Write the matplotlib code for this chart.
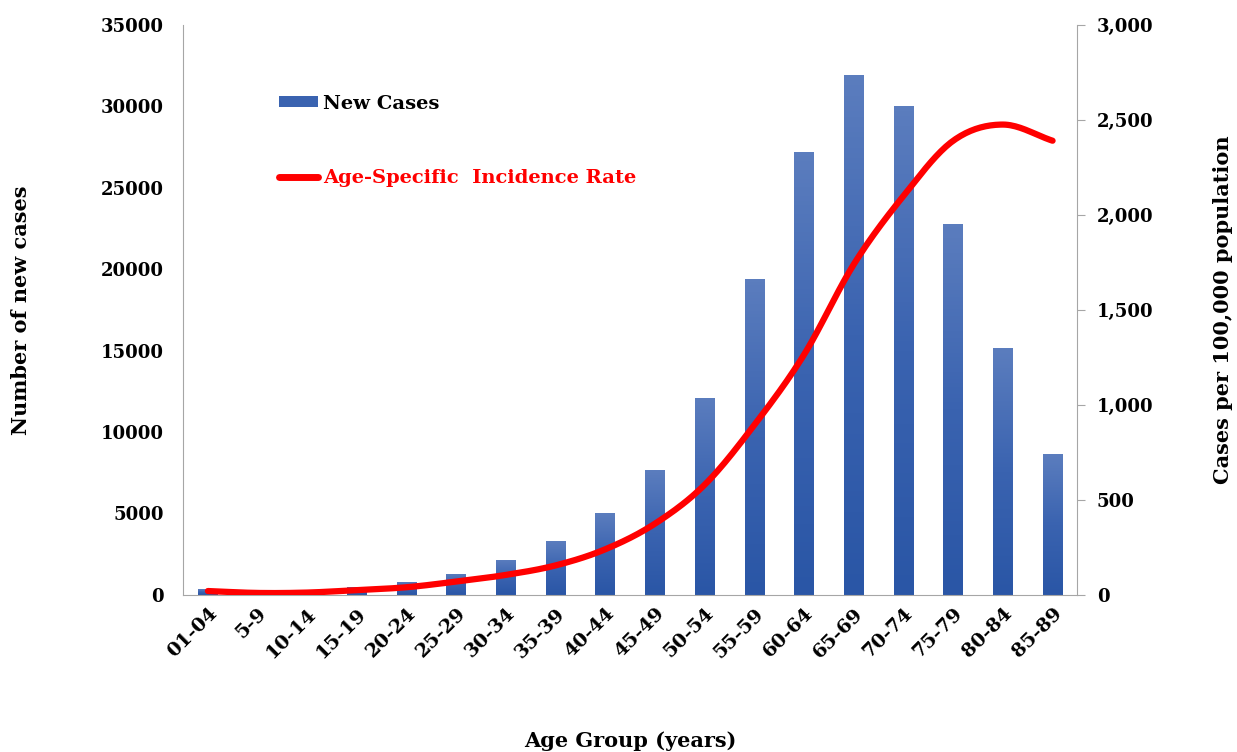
import numpy as np
import matplotlib.pyplot as plt
from matplotlib.lines import Line2D
from matplotlib.patches import Patch
from matplotlib.colors import LinearSegmentedColormap
from matplotlib.ticker import FuncFormatter

age_groups = ["01-04", "5-9", "10-14", "15-19", "20-24", "25-29", "30-34", "35-39",
              "40-44", "45-49", "50-54", "55-59", "60-64", "65-69", "70-74", "75-79",
              "80-84", "85-89"]
new_cases = [350, 60, 110, 500, 800, 1300, 2150, 3300, 5030, 7670, 12100, 19400,
             27200, 31900, 30000, 22800, 15160, 8650]
incidence_rate = [20, 10, 12, 25, 40, 70, 105, 155, 240, 375, 580, 895, 1265, 1740,
                  2100, 2390, 2475, 2390]

plt.rcParams['font.family'] = ['DejaVu Serif']
plt.rcParams['font.weight'] = 'bold'


def smooth(x, y, n=20):
    # catmull-rom curve through the points, like excel's smoothed line
    x = np.asarray(x, float)
    y = np.asarray(y, float)
    px = np.concatenate([[2 * x[0] - x[1]], x, [2 * x[-1] - x[-2]]])
    py = np.concatenate([[2 * y[0] - y[1]], y, [2 * y[-1] - y[-2]]])
    t = np.linspace(0, 1, n, endpoint=False)
    xs, ys = [], []
    for i in range(1, len(px) - 2):
        for p, out in ((px, xs), (py, ys)):
            p0, p1, p2, p3 = p[i - 1], p[i], p[i + 1], p[i + 2]
            out.extend(0.5 * (2 * p1 + (-p0 + p2) * t + (2 * p0 - 5 * p1 + 4 * p2 - p3) * t ** 2
                              + (-p0 + 3 * p1 - 3 * p2 + p3) * t ** 3))
    xs.append(x[-1])
    ys.append(y[-1])
    return np.array(xs), np.array(ys)


fig = plt.figure(figsize=(12.37, 7.52), dpi=100)
ax = fig.add_axes([0.148, 0.209, 0.723, 0.758])
x = np.arange(len(age_groups))

bars = ax.bar(x, new_cases, width=0.4, color='#3660AE', zorder=2)
# excel-style vertical gradient on each bar
cmap = LinearSegmentedColormap.from_list('bar', ['#2A56A6', '#3A63B0', '#5B7DBE'])
grad = np.linspace(0, 1, 100).reshape(-1, 1)
for b in bars:
    bx, by, bw, bh = b.get_x(), b.get_y(), b.get_width(), b.get_height()
    if bh <= 0:
        continue
    im = ax.imshow(grad, cmap=cmap, origin='lower', aspect='auto',
                   extent=[bx, bx + bw, by, by + bh], zorder=2)
    im.set_clip_path(b)

ax.set_xlim(-0.5, len(age_groups) - 0.5)
ax.set_ylim(0, 35000)
ax.set_yticks(range(0, 35001, 5000))
ax.set_xticks(x)
ax.set_xticklabels(age_groups, rotation=45, ha='right', rotation_mode='anchor', fontsize=14)
ax.tick_params(axis='y', length=0, labelsize=13, pad=14)
ax.tick_params(axis='x', length=0, pad=7)
for s in ['top', 'right']:
    ax.spines[s].set_visible(False)
for s in ['left', 'bottom']:
    ax.spines[s].set_color('#A6A6A6')
ax.set_ylabel("Number of new cases", fontsize=15, fontweight='bold', labelpad=50)
ax.set_xlabel("Age Group (years)", fontsize=15, fontweight='bold', labelpad=50)

ax2 = ax.twinx()
sx, sy = smooth(x, incidence_rate)
ax2.plot(sx, sy, color='#FF0000', lw=4.5, solid_capstyle='round', zorder=3)
ax2.set_ylim(0, 3000)
ax2.set_yticks(range(0, 3001, 500))
ax2.yaxis.set_major_formatter(FuncFormatter(lambda v, p: f"{int(v):,}"))
ax2.tick_params(axis='y', length=6, color='#A6A6A6', labelsize=13, pad=8)
for s in ['top', 'left', 'bottom']:
    ax2.spines[s].set_visible(False)
ax2.spines['right'].set_color('#A6A6A6')
ax2.set_ylabel("Cases per 100,000 population", fontsize=15, fontweight='bold', labelpad=43)

handles = [Patch(facecolor='#3A63B0'),
           Line2D([0], [0], color='#FF0000', lw=5, solid_capstyle='round')]
leg = ax.legend(handles, ["New Cases", "Age-Specific  Incidence Rate"], loc='upper left',
                bbox_to_anchor=(0.088, 0.908), frameon=False, fontsize=14,
                labelspacing=2.9, handlelength=2.0, handleheight=0.5, handletextpad=0.25)
leg.get_texts()[1].set_color('#FF0000')

fig.savefig("out.png", dpi=100)
